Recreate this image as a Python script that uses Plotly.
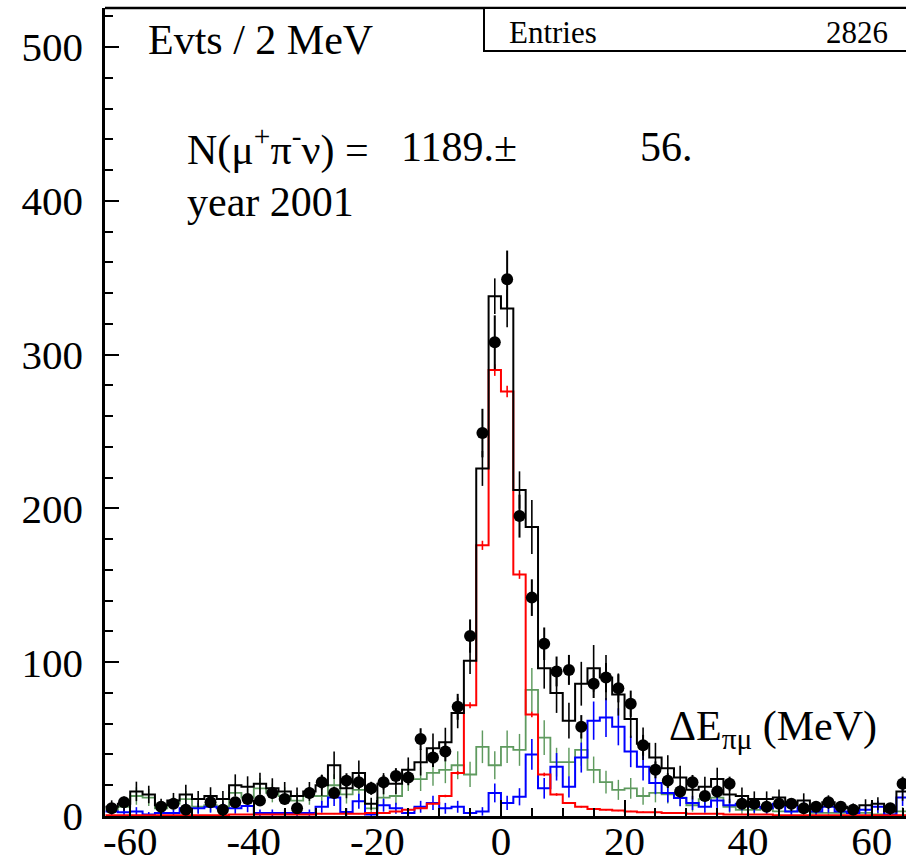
import numpy as np
import plotly.graph_objects as go

# Binning: 2 MeV bins from -64 to 66 MeV
BIN_LO, BIN_W = -64, 2
centers = list(range(-63, 66, 2))

# Observed events per bin
data = [5, 9, 0, 0, 6, 8, 4, 0, 9, 4,
        9, 11, 10, 15, 11, 5, 15, 22, 15, 23,
        22, 18, 22, 26, 25, 50, 38, 42, 71, 117,
        249, 308, 349, 195, 142, 112, 94, 95, 58, 86,
        90, 83, 73, 46, 30, 23, 16, 22, 13, 16,
        21, 8, 8, 6, 8, 8, 5, 6, 9, 6,
        4, 0, 0, 5, 21]

# Total expectation (black)
total = [6, 8, 16, 14, 7, 10, 14, 11, 13, 11,
         20, 19, 21, 18, 16, 13, 16, 20, 33, 18,
         28, 8, 21, 21, 30, 35, 44, 48, 67, 101,
         226, 338, 330, 212, 188, 96, 80, 62, 86, 96,
         90, 79, 63, 47, 38, 31, 25, 17, 19, 24,
         14, 13, 11, 11, 12, 7, 10, 6, 9, 6,
         5, 7, 8, 3, 16]

# Signal component (red)
signal = [0.5, 0.5, 0.5, 0.5, 0.5, 0.5, 0.5, 0.5, 0.5, 0.5,
          1, 1, 1, 1, 1, 1, 1, 1.5, 1.5, 1.5,
          1.5, 2, 2, 3, 4, 5, 8, 13, 28, 72,
          176, 290, 276, 157, 66, 27, 14, 8.5, 6, 4.5,
          4, 3.5, 3, 2.5, 2.5, 2, 2, 1.5, 1.5, 1.5,
          1, 1, 1, 1, 0.5, 0.5, 0.5, 0.5, 0.5, 0.5,
          0.5, 0.5, 0.5, 0.5, 0.5]

# Background component (green)
bkg_green = [4, 6, 13, 12, 5, 8, 11, 6, 7, 6,
             15, 12, 18, 15, 13, 10, 13, 13, 20, 14,
             17, 5, 12, 13, 24, 24, 28, 30, 33, 27,
             45, 33, 45, 43, 82, 51, 35, 35, 43, 30,
             22, 17, 18, 13, 15, 14, 12, 7, 11, 12,
             6, 4, 4, 5, 3, 3, 3, 2, 2, 2,
             2, 2, 1, 1, 3]

# Background component (blue)
bkg_blue = [3, 2.5, 3, 1, 2, 2, 5, 5, 6, 5,
            5, 6.5, 2, 2, 2, 2, 2, 6, 12, 2.6,
            9.6, 1, 7, 5, 2, 6, 8.5, 5, 6, 2,
            3, 15, 8.5, 12.5, 40, 18, 32, 19, 38, 62,
            64, 58, 42, 32, 21.5, 15, 11.7, 8.5, 6, 10,
            7, 8, 6, 5, 8, 3, 6, 3, 6, 3,
            2, 4, 6, 1, 12]

# Weights used for the Monte Carlo statistical uncertainties
W_SIG, W_BKG = 0.05, 2.5

x_tick_vals = [-60, -40, -20, 0, 20, 40, 60]
x_tick_text = ["-60", "-40", "-20", "0", "20", "40", "60"]
y_tick_vals = [0, 100, 200, 300, 400, 500]
y_tick_text = ["0", "100", "200", "300", "400", "500"]

FONT = "Liberation Serif, Times New Roman, serif"
GREEN = "#5f9a5f"

edges = [BIN_LO + BIN_W * i for i in range(len(centers) + 1)]
sig = np.array(signal, float)
grn = np.array(bkg_green, float)
blu = np.array(bkg_blue, float)
err_sig = np.sqrt(W_SIG * sig)
err_grn = np.sqrt(W_BKG * grn)
err_blu = np.sqrt(W_BKG * blu)
err_tot = np.sqrt(err_sig ** 2 + err_grn ** 2 + err_blu ** 2)

fig = go.Figure()


def add_hist(values, errors, color, width):
    # outline of the histogram
    fig.add_trace(go.Scatter(
        x=edges, y=list(values) + [values[-1]], mode="lines",
        line=dict(color=color, width=width, shape="hv"),
        hoverinfo="skip"))
    # per-bin uncertainty
    fig.add_trace(go.Scatter(
        x=centers, y=list(values), mode="markers",
        marker=dict(size=1, color=color),
        error_y=dict(type="data", array=list(errors), width=0,
                     thickness=width * 0.8, color=color),
        hoverinfo="skip"))


add_hist(bkg_green, err_grn, GREEN, 1.8)
add_hist(bkg_blue, err_blu, "#0000ff", 2)
add_hist(signal, err_sig, "#ff0000", 2)
add_hist(total, err_tot, "#000000", 2)

# data points (empty bins are not drawn)
dx = [c for c, v in zip(centers, data) if v > 0]
dy = [v for v in data if v > 0]
fig.add_trace(go.Scatter(
    x=dx, y=dy, mode="markers",
    marker=dict(size=12, color="black", symbol="circle"),
    error_y=dict(type="data", array=list(np.sqrt(dy)), width=0,
                 thickness=2, color="black")))

# plot-area geometry in pixels
W, H = 906, 866
L, R, T, B = 105, 0, 8, 50
PW, PH = W - L - R, H - T - B


def px(x):
    return (x - L) / PW


def py(y):
    return (H - B - y) / PH


axis_common = dict(
    showgrid=False, zeroline=False, showline=True, linecolor="black",
    linewidth=2.5, ticks="inside", tickcolor="black", tickwidth=2,
    automargin=False,
    tickfont=dict(family=FONT, size=41, color="black"),
)

fig.update_xaxes(
    range=[-64.08, 65.55], tickmode="array", tickvals=x_tick_vals,
    ticktext=x_tick_text, ticklen=16, ticklabelstandoff=-13,
    minor=dict(dtick=5, tick0=0, ticklen=8, ticks="inside",
               tickcolor="black", tickwidth=2),
    **axis_common)
fig.update_yaxes(
    range=[0, 525.4], tickmode="array", tickvals=y_tick_vals,
    ticktext=y_tick_text, ticklen=14, ticklabelstandoff=11,
    minor=dict(dtick=20, tick0=0, ticklen=8, ticks="inside",
               tickcolor="black", tickwidth=2),
    **axis_common)

shapes = [
    # top edge of the frame
    dict(type="line", xref="paper", yref="paper", x0=0, x1=1.01, y0=1, y1=1,
         line=dict(color="black", width=2.5)),
    # statistics box
    dict(type="rect", xref="paper", yref="paper", x0=px(484), x1=px(915),
         y0=py(51), y1=1, line=dict(color="black", width=2),
         fillcolor="white", layer="above"),
]


def label(text, x, y, size=42, xanchor="left"):
    return dict(text=text, xref="paper", yref="paper", x=px(x), y=py(y),
                xanchor=xanchor, yanchor="middle", showarrow=False,
                font=dict(family=FONT, size=size, color="black"))


annotations = [
    label("Evts / 2 MeV", 146, 40),
    label("N(\u03bc<sup>+</sup>\u03c0<sup>-</sup>\u03bd) =", 185, 147),
    label("1189.\u00b1", 399, 147),
    label("56.", 638, 147),
    label("year 2001", 185, 202),
    label("\u0394E<sub>\u03c0\u03bc</sub> (MeV)", 667, 729),
    label("Entries", 507, 32, size=31),
    label("2826", 890, 32, size=31, xanchor="right"),
]

fig.update_layout(
    width=W, height=H, margin=dict(l=L, r=R, t=T, b=B),
    paper_bgcolor="white", plot_bgcolor="white", showlegend=False,
    shapes=shapes, annotations=annotations,
)

fig.write_html("out.html")
